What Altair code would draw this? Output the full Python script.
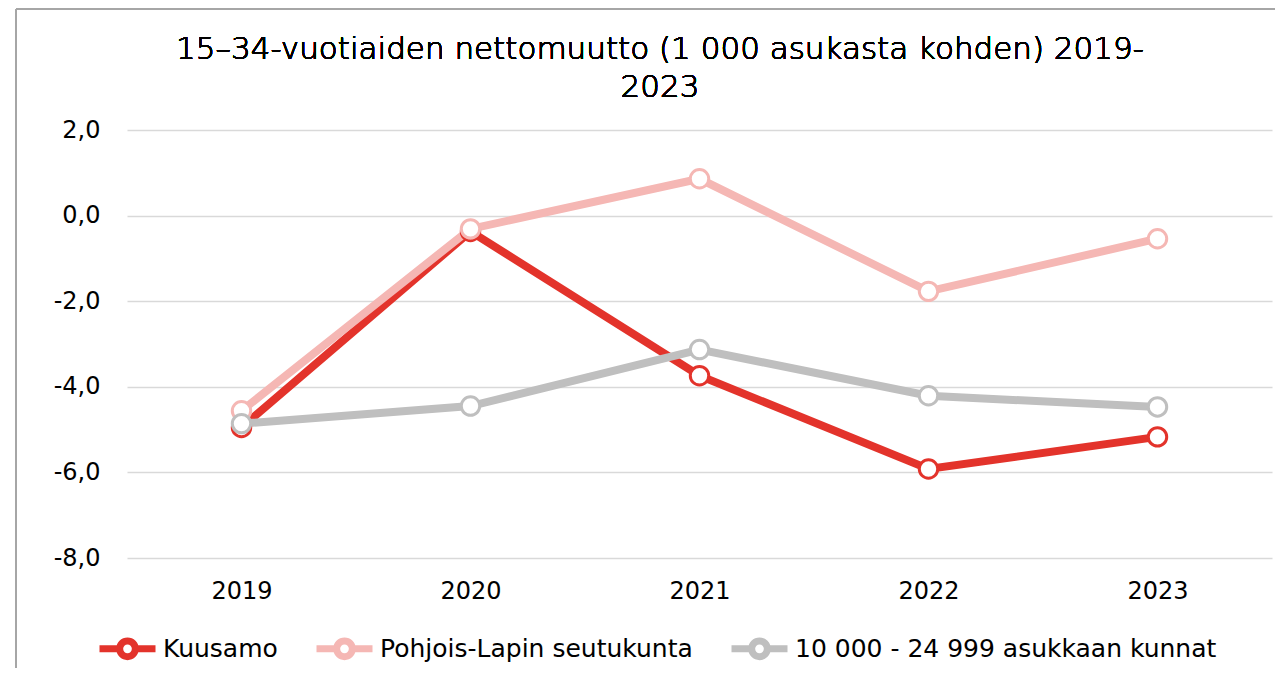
import altair as alt
import pandas as pd

years = ["2019", "2020", "2021", "2022", "2023"]
series = ["Kuusamo", "Pohjois-Lapin seutukunta", "10 000 - 24 999 asukkaan kunnat"]
kuusamo = [-4.95, -0.37, -3.74, -5.92, -5.17]
pohjois_lappi = [-4.56, -0.31, 0.86, -1.77, -0.54]
kunnat = [-4.86, -4.45, -3.13, -4.21, -4.47]
colors = ["#E3332B", "#F5B7B4", "#BFBFBF"]
title_lines = ["15–34-vuotiaiden nettomuutto (1 000 asukasta kohden) 2019-", "2023"]

rows = []
for i, (name, vals) in enumerate(zip(series, [kuusamo, pohjois_lappi, kunnat])):
    for y, v in zip(years, vals):
        rows.append({"vuosi": y, "sarja": name, "arvo": v, "jarj": i})
df = pd.DataFrame(rows)

FONT = "DejaVu Sans"
sym_path = "M-1,0L-0.28,0M0.28,0L1,0M0.28,0A0.28,0.28,0,1,1,-0.28,0A0.28,0.28,0,1,1,0.28,0Z"

color = alt.Color(
    "sarja:N",
    scale=alt.Scale(domain=series, range=colors),
    legend=alt.Legend(
        title=None, orient="none", direction="horizontal",
        legendX=-31, legendY=487,
        symbolType=sym_path, symbolSize=3136, symbolStrokeWidth=7,
        symbolFillColor="white", labelFontSize=25, labelFont=FONT,
        labelColor="#000000", labelOffset=4, columnPadding=24,
        labelLimit=600,
    ),
)

x = alt.X(
    "vuosi:N", title=None, sort=years,
    scale=alt.Scale(paddingInner=0, paddingOuter=0.5),
    axis=alt.Axis(labelAngle=0, labelFontSize=24, labelFont=FONT, labelColor="#000000",
                  domain=False, ticks=False, labelPadding=21, grid=False),
)
y = alt.Y(
    "arvo:Q", title=None,
    scale=alt.Scale(domain=[-8, 2], nice=False),
    axis=alt.Axis(values=[-8, -6, -4, -2, 0, 2], labelFontSize=24, labelFont=FONT,
                  labelColor="#000000", domain=False, ticks=False, labelPadding=27,
                  gridColor="#D9D9D9", gridWidth=1.5,
                  labelExpr="replace(replace(format(datum.value, '.1f'), '.', ','), '\u2212', '-')"),
)

lines = alt.Chart(df).mark_line(strokeWidth=8, strokeCap="butt").encode(
    x=x, y=y, color=color, order=alt.Order("jarj:Q"),
    detail="sarja:N",
)
points = alt.Chart(df).mark_point(filled=False, fill="white", fillOpacity=1, size=340,
                                  strokeWidth=3, opacity=1, shape="circle").encode(
    x=x, y=y, color=alt.Color("sarja:N", scale=alt.Scale(domain=series, range=colors), legend=None),
    order=alt.Order("jarj:Q"),
)

frame_left = alt.Chart(df).mark_rule(color="#A6A6A6", strokeWidth=1.5).encode(
    x=alt.value(-111), y=alt.value(-121), y2=alt.value(560)
)
frame_top = alt.Chart(df).mark_rule(color="#A6A6A6", strokeWidth=1.5).encode(
    x=alt.value(-111), x2=alt.value(1170), y=alt.value(-121)
)

title1 = alt.Chart(df).mark_text(font=FONT, fontSize=31, fontWeight=200, color="#000000",
                                 align="center", baseline="middle").encode(
    x=alt.value(533), y=alt.value(-80), text=alt.value(title_lines[0])
)
title2 = alt.Chart(df).mark_text(font=FONT, fontSize=31, fontWeight=200, color="#000000",
                                 align="center", baseline="middle").encode(
    x=alt.value(533), y=alt.value(-42), text=alt.value(title_lines[1])
)

chart = alt.layer(lines, points, frame_left, frame_top, title1, title2).properties(
    width=1145, height=428,
    autosize=alt.AutoSizeParams(type="none"),
    padding={"left": 119, "top": 122, "right": 3, "bottom": 110},
    view=alt.ViewBackground(stroke="transparent", strokeWidth=0),
).configure_view(stroke="transparent", strokeWidth=0).configure(background="white")

chart.save("out.html", embed_options={"renderer": "svg", "actions": False})
